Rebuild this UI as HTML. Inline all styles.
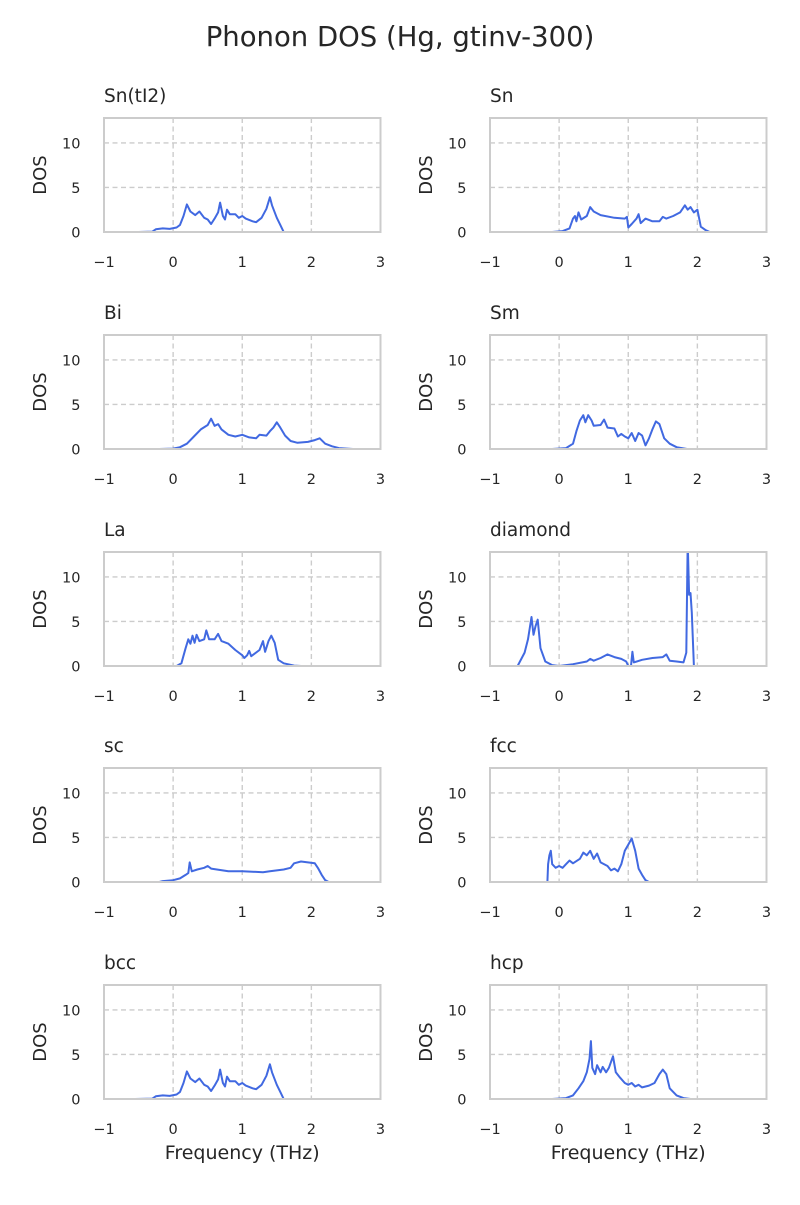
<!DOCTYPE html>
<html><head><meta charset="utf-8"><style>
html,body{margin:0;padding:0;background:#fff}
svg text{font-family:"DejaVu Sans","Liberation Sans",sans-serif;fill:#262626}
</style></head><body>
<svg id="fig" width="800" height="1200" viewBox="0 0 800 1200" xmlns="http://www.w3.org/2000/svg">
<text x="400" y="46" text-anchor="middle" font-size="27.5">Phonon DOS (Hg, gtinv-300)</text>
</svg>
<script>
const panelTitles=["Sn(tI2)","Sn","Bi","Sm","La","diamond","sc","fcc","bcc","hcp"];
const xTicks=[-1,0,1,2,3];
const yTicks=[0,5,10];
const snTI2=[[-0.5,0],[-0.3,0.05],[-0.25,0.3],[-0.15,0.4],[-0.05,0.35],[0.05,0.5],[0.1,0.8],[0.15,1.8],[0.2,3.1],[0.25,2.3],[0.32,1.9],[0.38,2.3],[0.45,1.6],[0.5,1.4],[0.55,0.9],[0.6,1.5],[0.65,2.2],[0.68,3.3],[0.72,1.8],[0.75,1.4],[0.78,2.5],[0.82,2.0],[0.9,2.0],[0.95,1.6],[1.0,1.8],[1.05,1.5],[1.15,1.2],[1.2,1.1],[1.28,1.6],[1.35,2.6],[1.4,3.9],[1.43,3.0],[1.5,1.6],[1.55,0.8],[1.6,0],[1.8,0]];
const sn=[[-0.1,0],[0.05,0.1],[0.15,0.4],[0.2,1.5],[0.23,1.8],[0.25,1.2],[0.28,2.2],[0.32,1.4],[0.4,1.8],[0.45,2.8],[0.5,2.3],[0.6,1.9],[0.8,1.6],[0.95,1.5],[0.98,1.7],[1.0,0.5],[1.05,0.9],[1.12,1.5],[1.15,2.0],[1.18,1.0],[1.25,1.5],[1.35,1.2],[1.45,1.2],[1.5,1.7],[1.55,1.5],[1.65,1.8],[1.75,2.2],[1.82,3.0],[1.86,2.5],[1.9,2.8],[1.95,2.2],[2.0,2.5],[2.05,0.6],[2.12,0.2],[2.18,0],[2.3,0]];
const bi=[[-0.2,0],[0,0.05],[0.1,0.2],[0.2,0.6],[0.3,1.4],[0.4,2.2],[0.5,2.7],[0.55,3.4],[0.6,2.6],[0.65,2.8],[0.7,2.2],[0.8,1.6],[0.9,1.4],[1.0,1.6],[1.1,1.3],[1.2,1.2],[1.25,1.6],[1.35,1.5],[1.4,2.0],[1.45,2.4],[1.5,3.0],[1.55,2.4],[1.62,1.5],[1.7,0.9],[1.8,0.7],[1.95,0.8],[2.05,1.0],[2.12,1.2],[2.2,0.6],[2.3,0.3],[2.4,0.1],[2.6,0]];
const sm=[[-0.1,0],[0.1,0.1],[0.2,0.6],[0.25,2.0],[0.3,3.2],[0.35,3.8],[0.38,3.0],[0.42,3.8],[0.47,3.2],[0.5,2.6],[0.6,2.7],[0.65,3.3],[0.7,2.4],[0.8,2.3],[0.85,1.4],[0.9,1.7],[0.95,1.4],[1.0,1.2],[1.05,1.8],[1.1,0.9],[1.15,1.8],[1.2,1.5],[1.25,0.4],[1.3,1.2],[1.35,2.2],[1.4,3.1],[1.45,2.8],[1.52,1.2],[1.6,0.6],[1.7,0.2],[1.85,0]];
const la=[[-0.1,0],[0.05,0],[0.12,0.3],[0.18,2.0],[0.22,3.0],[0.25,2.5],[0.28,3.4],[0.31,2.6],[0.34,3.5],[0.38,2.8],[0.45,3.0],[0.48,4.0],[0.52,3.0],[0.6,3.0],[0.65,3.6],[0.7,2.8],[0.8,2.5],[0.9,1.8],[1.0,1.2],[1.03,0.9],[1.07,1.2],[1.1,1.7],[1.13,1.1],[1.25,1.8],[1.3,2.8],[1.33,1.6],[1.38,2.8],[1.42,3.4],[1.47,2.6],[1.52,0.7],[1.6,0.3],[1.75,0.05],[1.85,0]];
const diamond=[[-0.8,0],[-0.6,0],[-0.5,1.5],[-0.45,3],[-0.4,5.5],[-0.37,3.5],[-0.34,4.5],[-0.31,5.2],[-0.27,2],[-0.2,0.5],[-0.1,0.1],[0,0],[0.2,0.2],[0.4,0.5],[0.45,0.8],[0.5,0.6],[0.6,0.9],[0.7,1.3],[0.8,1.0],[0.9,0.8],[0.97,0.5],[1.0,0],[1.04,0],[1.06,1.6],[1.08,0.4],[1.2,0.7],[1.35,0.9],[1.5,1.0],[1.55,1.3],[1.6,0.6],[1.7,0.5],[1.8,0.4],[1.84,1.5],[1.86,14],[1.88,8],[1.9,8.2],[1.92,6],[1.95,0],[2.2,0]];
const sc=[[-0.2,0],[-0.15,0.1],[0,0.2],[0.1,0.4],[0.18,0.8],[0.22,1.0],[0.24,2.2],[0.27,1.2],[0.35,1.4],[0.45,1.6],[0.5,1.8],[0.55,1.5],[0.8,1.2],[1.0,1.2],[1.3,1.1],[1.4,1.2],[1.6,1.4],[1.7,1.6],[1.75,2.1],[1.85,2.3],[1.95,2.2],[2.05,2.1],[2.1,1.5],[2.15,0.8],[2.2,0.2],[2.25,0],[2.3,0]];
const fcc=[[-0.17,0],[-0.16,2],[-0.14,3.0],[-0.12,3.5],[-0.1,2],[-0.05,1.6],[0,1.8],[0.05,1.6],[0.1,2.0],[0.15,2.4],[0.2,2.1],[0.3,2.6],[0.35,3.3],[0.4,3.0],[0.45,3.5],[0.5,2.6],[0.55,3.2],[0.6,2.2],[0.7,1.8],[0.75,1.3],[0.8,1.5],[0.85,1.2],[0.9,2.0],[0.95,3.5],[1.0,4.2],[1.05,4.9],[1.1,3.5],[1.15,1.5],[1.2,0.8],[1.25,0.2],[1.3,0]];
const bcc=[[-0.55,0],[-0.3,0.05],[-0.25,0.3],[-0.15,0.4],[-0.05,0.35],[0.05,0.5],[0.1,0.8],[0.15,1.8],[0.2,3.1],[0.25,2.3],[0.32,1.9],[0.38,2.3],[0.45,1.6],[0.5,1.4],[0.55,0.9],[0.6,1.5],[0.65,2.2],[0.68,3.3],[0.72,1.8],[0.75,1.4],[0.78,2.5],[0.82,2.0],[0.9,2.0],[0.95,1.6],[1.0,1.8],[1.05,1.5],[1.15,1.2],[1.2,1.1],[1.28,1.6],[1.35,2.6],[1.4,3.9],[1.43,3.0],[1.5,1.6],[1.55,0.8],[1.6,0],[1.8,0]];
const hcp=[[-0.1,0],[0.1,0.1],[0.2,0.4],[0.28,1.2],[0.35,2.0],[0.4,3.0],[0.44,4.5],[0.46,6.5],[0.48,3.5],[0.52,2.8],[0.55,3.8],[0.6,3.0],[0.63,3.6],[0.68,3.0],[0.72,3.5],[0.78,4.8],[0.82,3.0],[0.88,2.4],[0.95,1.8],[1.0,1.6],[1.05,1.8],[1.1,1.4],[1.15,1.6],[1.2,1.3],[1.3,1.5],[1.38,1.8],[1.45,2.8],[1.5,3.3],[1.55,2.8],[1.6,1.2],[1.7,0.4],[1.8,0.1],[1.9,0]];
const series=[snTI2,sn,bi,sm,la,diamond,sc,fcc,bcc,hcp];

const NS="http://www.w3.org/2000/svg";
const svg=document.getElementById('fig');
function mk(tag,attrs,parent){const e=document.createElementNS(NS,tag);for(const k in attrs)e.setAttribute(k,attrs[k]);(parent||svg).appendChild(e);return e;}
const colX=[104,490], W=276.5, H=114, rowTop=[118,335,552,768,985];
const XMIN=-1,XMAX=3,YMIN=0,YMAX=12.8;
for(let i=0;i<10;i++){
  const x0=colX[i%2], y0=rowTop[Math.floor(i/2)];
  const sx=v=>x0+(v-XMIN)/(XMAX-XMIN)*W;
  const sy=v=>y0+H-(v-YMIN)/(YMAX-YMIN)*H;
  const g=mk('g',{});
  
  
  const cp=mk('clipPath',{id:'c'+i},g); mk('rect',{x:x0,y:y0,width:W,height:H},cp);
  xTicks.forEach(t=>{ if(t>XMIN&&t<XMAX){const l=mk('line',{x1:sx(t),x2:sx(t),y1:y0,y2:y0+H,stroke:'#cccccc','stroke-width':1.4,'stroke-dasharray':'5,3.5'},g);
    
    }
    const tx=mk('text',{x:sx(t),y:y0+H+35,'text-anchor':'middle','font-size':14.5},g); tx.textContent=(t<0?'\u2212'+(-t):t);
    
    
  });
  yTicks.forEach(t=>{ if(t>YMIN){const l=mk('line',{x1:x0,x2:x0+W,y1:sy(t),y2:sy(t),stroke:'#cccccc','stroke-width':1.4,'stroke-dasharray':'5,3.5'},g);
    
    }
    const tx=mk('text',{x:x0-23.5,y:sy(t)+5.5,'text-anchor':'end','font-size':14.5},g); tx.textContent=t;
    
    
  });
  const d=series[i].map((p,j)=>(j?'L':'M')+sx(p[0]).toFixed(1)+','+sy(p[1]).toFixed(1)).join('');
  const path=mk('path',{d:d,fill:'none',stroke:'#4169e1','stroke-width':2,'stroke-linejoin':'round','clip-path':'url(#c'+i+')'},g);
  
  
  const fr=mk('rect',{x:x0,y:y0,width:W,height:H,fill:'none',stroke:'#cccccc','stroke-width':2},g);
  
  
  const tt=mk('text',{x:x0,y:y0-16,'font-size':18.5},g); tt.textContent=panelTitles[i];
  
  
  const yl=mk('text',{x:0,y:0,'font-size':18,'text-anchor':'middle',transform:'translate('+(x0-58)+','+(y0+H/2)+') rotate(-90)'},g); yl.textContent='DOS';
  
  
  if(i>=8){const xl=mk('text',{x:x0+W/2,y:y0+H+60,'font-size':19,'text-anchor':'middle'},g); xl.textContent='Frequency (THz)';
    
    }
}
</script>
</body></html>
